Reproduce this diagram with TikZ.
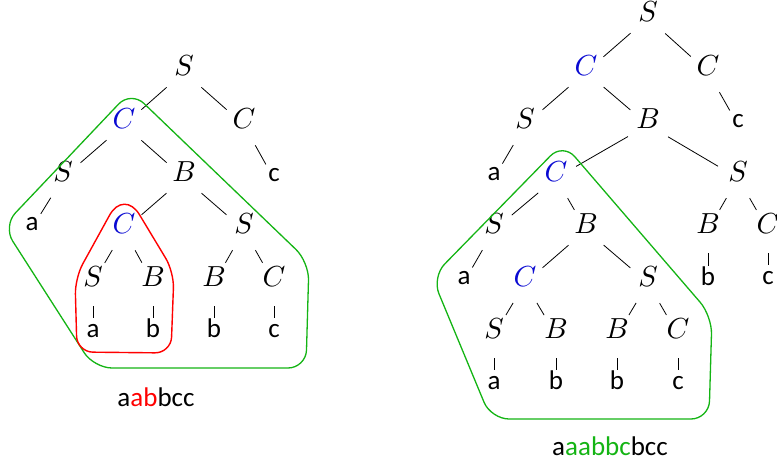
\documentclass[tikz,border=0pt]{standalone}
\DeclareFontShape{OML}{cmm}{m}{it}{<-> cmmi10}{}
\usepackage{fontspec}
\newfontfamily\term{Carlito}
\definecolor{treegreen}{RGB}{20,180,20}
\definecolor{ntblue}{RGB}{10,10,210}
\begin{document}
\begin{tikzpicture}[x=1pt,y=-1pt,
 nt/.style={circle,minimum size=46pt,inner sep=0pt,text height=0.68em,text depth=0pt,font=\fontsize{29}{31}\selectfont},
 ntb/.style={nt,text=ntblue},
 tm/.style={circle,minimum size=33pt,inner sep=0pt,text height=0.47em,text depth=0pt,font=\term\fontsize{27}{29}\selectfont},
 edge/.style={line width=0.8pt},
 wordtext/.style={inner sep=0pt,font=\term\fontsize{27}{29}\selectfont},
 hull/.style={line width=1.3pt,rounded corners=16pt,line cap=round}]
\useasboundingbox (0,0) rectangle (777,460);
% ---------- left tree ----------
\node[nt] (l1) at (184,72) {$S$};
\node[ntb] (l2) at (124,125) {$C$};
\node[nt] (l3) at (244,125) {$C$};
\node[nt] (l4) at (63,178) {$S$};
\node[nt] (l5) at (184,178) {$B$};
\node[tm] (l6) at (274,179) {c};
\node[tm] (l7) at (32,228) {a};
\node[ntb] (l8) at (124,230) {$C$};
\node[nt] (l9) at (244,230) {$S$};
\node[nt] (l10) at (93,283) {$S$};
\node[nt] (l11) at (153,283) {$B$};
\node[nt] (l12) at (214,283) {$B$};
\node[nt] (l13) at (274,283) {$C$};
\node[tm] (l14) at (93,335) {a};
\node[tm] (l15) at (153,335) {b};
\node[tm] (l16) at (214,335) {b};
\node[tm] (l17) at (274,335) {c};
\foreach \a/\b in {l1/l2,l1/l3,l2/l4,l2/l5,l3/l6,l4/l7,l5/l8,l5/l9,l8/l10,l8/l11,l9/l12,l9/l13,l10/l14,l11/l15,l12/l16,l13/l17}
  \draw[edge] (\a) -- (\b);
\draw[hull,treegreen,rounded corners=18pt] (131,91) -- (309,262) -- (306,368) -- (94,368) -- (3,226) -- cycle;
\draw[hull,red,line width=1.4pt] (124,352.5) -- (77,352) -- (75,278)
  [rounded corners=30pt] -- (124,189) [rounded corners=16pt] -- (174,272) -- (171,353) -- cycle;
\node[wordtext] (w1) at (156,397) {a\textcolor{red}{ab}bcc};
% ---------- right tree ----------
\node[nt] (r1) at (648,18) {$S$};
\node[ntb] (r2) at (586,72) {$C$};
\node[nt] (r3) at (708,72) {$C$};
\node[nt] (r4) at (525,125) {$S$};
\node[nt] (r5) at (648,125) {$B$};
\node[tm] (r6) at (738,125) {c};
\node[tm] (r7) at (494,178) {a};
\node[ntb] (r8) at (556,178) {$C$};
\node[nt] (r9) at (738,178) {$S$};
\node[nt] (r10) at (494,230) {$S$};
\node[nt] (r11) at (586,230) {$B$};
\node[nt] (r12) at (708,230) {$B$};
\node[nt] (r13) at (768,230) {$C$};
\node[tm] (r14) at (464,282) {a};
\node[ntb] (r15) at (525,283) {$C$};
\node[nt] (r16) at (648,283) {$S$};
\node[tm] (r17) at (708,283) {b};
\node[tm] (r18) at (768,282) {c};
\node[nt] (r19) at (494,335) {$S$};
\node[nt] (r20) at (556,335) {$B$};
\node[nt] (r21) at (617,335) {$B$};
\node[nt] (r22) at (678,335) {$C$};
\node[tm] (r23) at (494,387) {a};
\node[tm] (r24) at (556,387) {b};
\node[tm] (r25) at (617,387) {b};
\node[tm] (r26) at (678,387) {c};
\foreach \a/\b in {r1/r2,r1/r3,r2/r4,r2/r5,r3/r6,r4/r7,r5/r8,r5/r9,r8/r10,r8/r11,r9/r12,r9/r13,r10/r14,r11/r15,r11/r16,r12/r17,r13/r18,r15/r19,r15/r20,r16/r21,r16/r22,r19/r23,r20/r24,r21/r25,r22/r26}
  \draw[edge] (\a) -- (\b);
\draw[hull,treegreen,rounded corners=18pt] (563,143) -- (712,316) -- (709,419) -- (491,419) -- (432,277) -- cycle;
\node[wordtext] (w2) at (610,446) {a\textcolor{treegreen}{aabbc}bcc};
\end{tikzpicture}
\end{document}
